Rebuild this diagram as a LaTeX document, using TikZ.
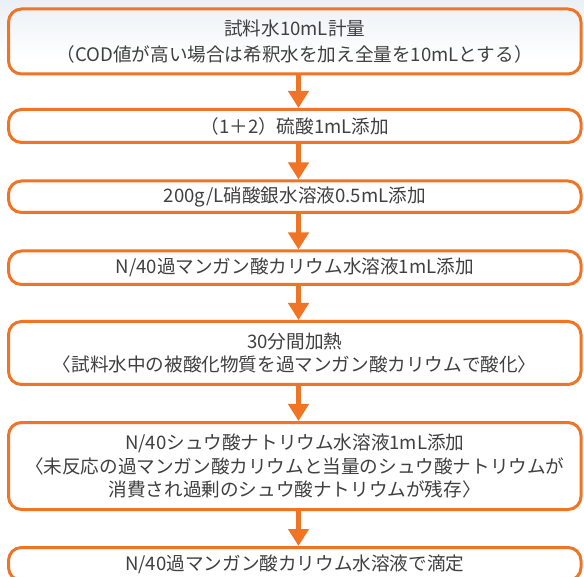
\documentclass[tikz,border=0pt]{standalone}
\usepackage{fontspec}
\setmainfont{Noto Sans CJK JP}
\usetikzlibrary{arrows.meta}
\definecolor{org}{HTML}{F07425}
\definecolor{txt}{HTML}{404040}
\definecolor{bgtop}{HTML}{EBF0F6}
\begin{document}
\begin{tikzpicture}[x=1pt,y=-1pt,
  stepbox/.style={draw=org, line width=3pt, rounded corners=13pt,
    minimum width=572.5pt, inner sep=0pt, align=center, text=txt,
    font=\fontsize{18.6}{23.5}\selectfont},
  flow/.style={draw=org, line width=5.5pt, -{Triangle[length=17pt,width=20pt]}}]
\useasboundingbox (0,0) rectangle (584,577);
\fill[white] (0,0) rectangle (584,577);
\shade[top color=bgtop, bottom color=white] (0,0) rectangle (584,60);
\coordinate (ax) at (298.5,0);
\node[stepbox, minimum height=65pt, font=\fontsize{18.6}{26}\selectfont] (b1) at (294.75,41.5)
  {試料水10mL計量\\（COD値が高い場合は希釈水を加え全量を10mLとする）};
\node[stepbox, minimum height=33pt] (b2) at (294.75,126) {（1＋2）硫酸1mL添加};
\node[stepbox, minimum height=31.5pt] (b3) at (294.75,196.75) {200g/L硝酸銀水溶液0.5mL添加};
\node[stepbox, minimum height=33.5pt] (b4) at (294.75,267.75) {N/40過マンガン酸カリウム水溶液1mL添加};
\node[stepbox, minimum height=63pt] (b5) at (294.75,353)
  {30分間加熱\\〈試料水中の被酸化物質を過マンガン酸カリウムで酸化〉};
\node[stepbox, minimum height=87pt] (b6) at (294.75,466)
  {N/40シュウ酸ナトリウム水溶液1mL添加\\〈未反応の過マンガン酸カリウムと当量のシュウ酸ナトリウムが\\消費され過剰のシュウ酸ナトリウムが残存〉};
\node[stepbox, minimum height=33pt] (b7) at (294.75,564) {N/40過マンガン酸カリウム水溶液で滴定};
\foreach \a/\b in {b1/b2,b2/b3,b3/b4,b4/b5,b5/b6,b6/b7}
  \draw[flow] (\a.south -| ax) -- (\b.north -| ax);
\end{tikzpicture}
\end{document}
